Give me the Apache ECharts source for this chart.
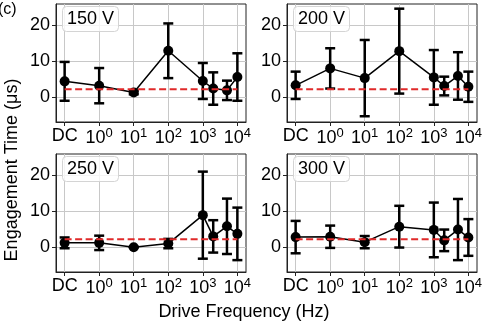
<!DOCTYPE html>
<html>
<head>
<meta charset="utf-8">
<script src="https://cdn.jsdelivr.net/npm/echarts@6/dist/echarts.min.js"></script>
<style>
  html, body { margin: 0; padding: 0; background: #fff; }
  #chart { width: 488px; height: 326px; }
</style>
</head>
<body>
<div id="chart"></div>
<script>
// drive frequencies (Hz), DC drawn one decade left of 10^0
var freqs = ['DC', 1, 10, 100, 1000, 2000, 5000, 10000];
var tickPos = [-1, 0, 1, 2, 3, 4];
var panelNames = ['150 V', '200 V', '250 V', '300 V'];

var mean150 = [4.4, 3.2, 1.3, 12.9, 4.5, 2.4, 1.9, 5.6];
var err150  = [5.4, 4.9, 0.5, 7.6, 5.0, 4.5, 2.7, 6.6];
var mean200 = [3.3, 8.0, 5.3, 12.8, 5.5, 3.1, 5.9, 2.9];
var err200  = [3.8, 5.6, 10.6, 11.8, 7.6, 2.6, 6.6, 4.2];
var mean250 = [1.2, 1.2, 0.0, 1.0, 8.9, 3.0, 5.8, 3.7];
var err250  = [1.5, 2.0, 0.1, 1.3, 12.1, 4.5, 7.7, 7.3];
var mean300 = [2.8, 2.9, 1.4, 5.7, 4.8, 1.9, 4.9, 2.7];
var err300  = [4.5, 3.1, 1.7, 5.8, 7.6, 3.0, 8.5, 5.1];
var baseline = 2.2;

var means = [mean150, mean200, mean250, mean300];
var errs = [err150, err200, err250, err300];

var FONT = 'Liberation Sans';
var xPos = freqs.map(function (f) { return f === 'DC' ? -1 : Math.log10(f); });

var grids = [
  { left: 56, top: 4, width: 190, height: 118 },
  { left: 287, top: 4, width: 190, height: 118 },
  { left: 56, top: 154, width: 190, height: 118 },
  { left: 287, top: 154, width: 190, height: 118 }
];

var xAxes = [], yAxes = [], series = [], titles = [];

grids.forEach(function (g, i) {
  xAxes.push({
    type: 'value', gridIndex: i, min: -1.25, max: 4.25,
    axisLine: { show: true, onZero: false, lineStyle: { color: '#222', width: 1 } },
    axisTick: { show: true, length: 4, customValues: tickPos, lineStyle: { color: '#222' } },
    axisLabel: {
      customValues: tickPos, margin: 5, color: '#000', fontFamily: FONT, fontSize: 18,
      formatter: function (v) { return v === -1 ? 'DC' : '{b|10}{s|' + v + '}'; },
      rich: {
        b: { fontFamily: FONT, fontSize: 18, color: '#000' },
        s: { fontFamily: FONT, fontSize: 13, color: '#000', padding: [0, 0, 9, 0] }
      }
    },
    splitLine: { show: true, lineStyle: { color: '#c8c8c8', width: 1 } }
  });
  yAxes.push({
    type: 'value', gridIndex: i, min: -6.9, max: 25.9,
    axisLine: { show: true, onZero: false, lineStyle: { color: '#222', width: 1 } },
    axisTick: { show: true, length: 4, customValues: [0, 10, 20], lineStyle: { color: '#222' } },
    axisLabel: { customValues: [0, 10, 20], margin: 6, color: '#000', fontFamily: FONT, fontSize: 18 },
    splitLine: { show: true, lineStyle: { color: '#c8c8c8', width: 1 } }
  });

  var m = means[i], e = errs[i];
  var errData = xPos.map(function (x, k) { return [x, m[k] - e[k], m[k] + e[k]]; });

  series.push({
    type: 'custom', xAxisIndex: i, yAxisIndex: i, z: 3, silent: true,
    data: errData,
    renderItem: function (params, api) {
      var lo = api.coord([api.value(0), api.value(1)]);
      var hi = api.coord([api.value(0), api.value(2)]);
      var hw = 5;
      var st = { stroke: '#000', lineWidth: 2.5 };
      return {
        type: 'group',
        children: [
          { type: 'line', shape: { x1: lo[0], y1: lo[1], x2: hi[0], y2: hi[1] }, style: st },
          { type: 'line', shape: { x1: lo[0] - hw, y1: lo[1], x2: lo[0] + hw, y2: lo[1] }, style: st },
          { type: 'line', shape: { x1: hi[0] - hw, y1: hi[1], x2: hi[0] + hw, y2: hi[1] }, style: st }
        ]
      };
    }
  });
  series.push({
    type: 'line', xAxisIndex: i, yAxisIndex: i, z: 4, silent: true,
    data: xPos.map(function (x, k) { return [x, m[k]]; }),
    symbol: 'circle', symbolSize: 10,
    itemStyle: { color: '#000' },
    lineStyle: { color: '#000', width: 1.5 }
  });
  series.push({
    type: 'line', xAxisIndex: i, yAxisIndex: i, z: 5, silent: true,
    data: [[tickPos[0], baseline], [tickPos[tickPos.length - 1], baseline]],
    symbol: 'none',
    lineStyle: { color: '#e02a2a', width: 2, type: [7, 3.5] }
  });

  titles.push({
    text: panelNames[i], left: g.left + 6, top: g.top + 2,
    padding: [4, 5, 4, 5],
    borderColor: '#d4d4d4', borderWidth: 1, borderRadius: 4,
    backgroundColor: 'rgba(255,255,255,0.8)',
    textStyle: { fontFamily: FONT, fontSize: 18, fontWeight: 'normal', color: '#000' }
  });
});

titles.push({
  text: '(c)', left: -2, top: 2, padding: 0,
  textStyle: { fontFamily: FONT, fontSize: 16, fontWeight: 'normal', color: '#000' }
});

var myChart = echarts.init(document.getElementById('chart'));
var option = {
  animation: false,
  backgroundColor: '#fff',
  title: titles,
  grid: grids.map(function (g) { return Object.assign({ show: true, borderColor: '#222', borderWidth: 1 }, g); }),
  xAxis: xAxes,
  yAxis: yAxes,
  series: series,
  graphic: [
    {
      type: 'text', x: 12, y: 170, rotation: Math.PI / 2,
      style: {
        text: 'Engagement Time (μs)', fontFamily: FONT, fontSize: 18, fill: '#000',
        align: 'center', verticalAlign: 'middle'
      }
    },
    {
      type: 'text', x: 244, y: 312,
      style: {
        text: 'Drive Frequency (Hz)', fontFamily: FONT, fontSize: 18, fill: '#000',
        align: 'center', verticalAlign: 'middle'
      }
    }
  ]
};
option && myChart.setOption(option);
</script>
</body>
</html>
